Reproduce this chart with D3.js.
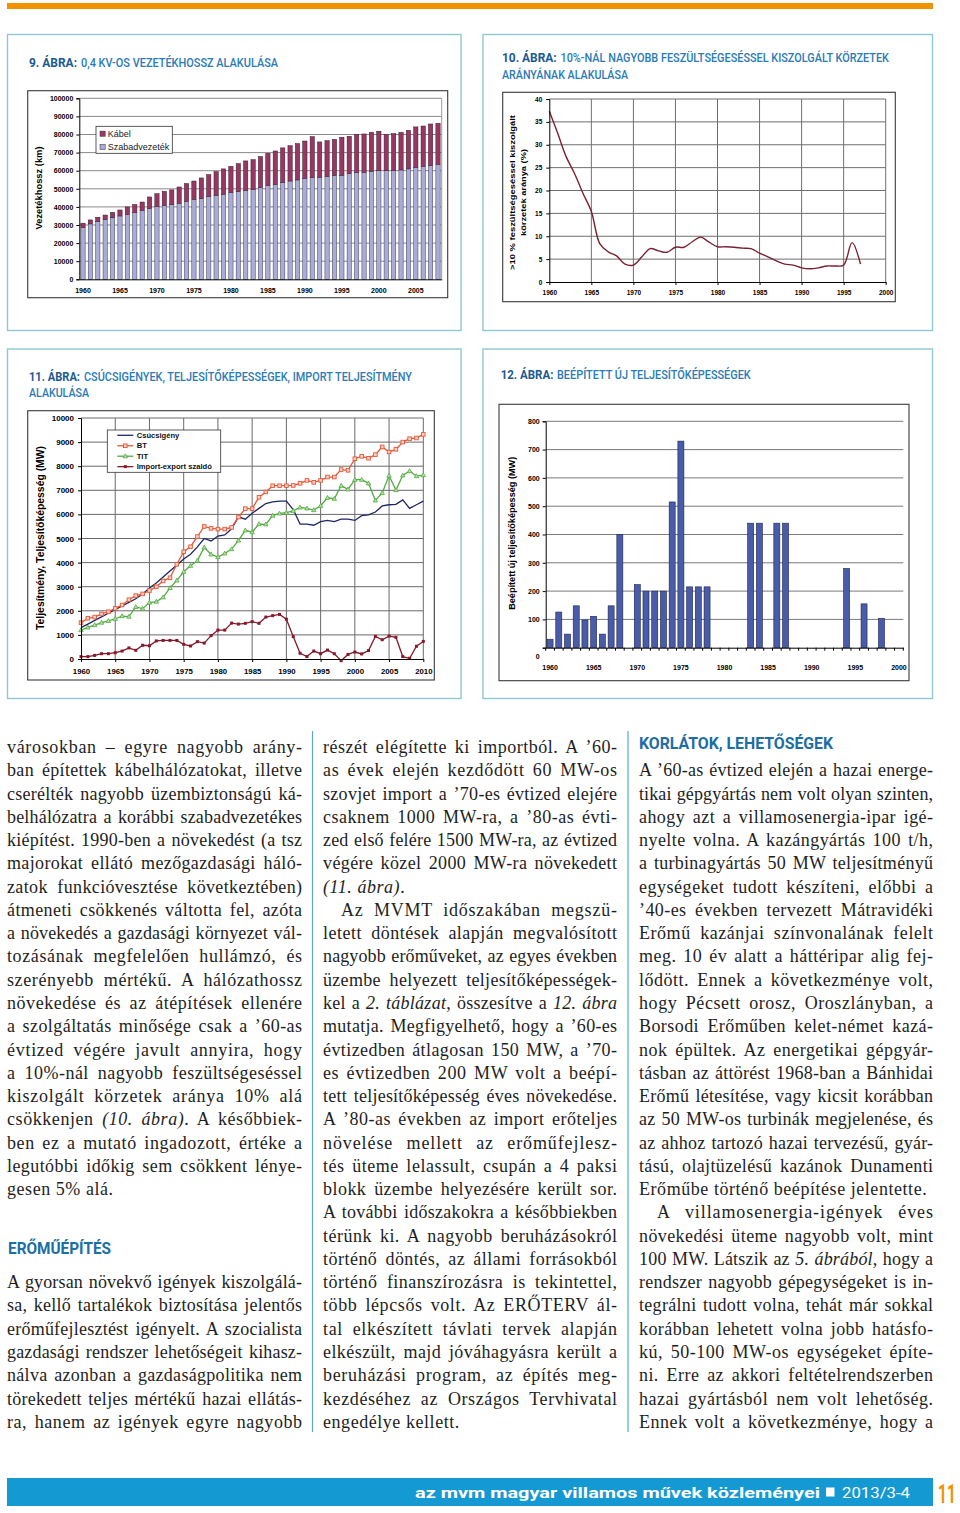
<!DOCTYPE html>
<html><head><meta charset="utf-8">
<script src="https://cdn.jsdelivr.net/npm/d3@7"></script>
<style>
body{margin:0;background:#fff}
svg{display:block}
.body{font-family:"Liberation Serif","Times New Roman",serif;font-size:18px;fill:#1e1e1e}
.ax text{font-family:"Liberation Sans",Arial,sans-serif;font-weight:bold;fill:#000}
</style>
</head><body>
<svg id="page" width="960" height="1513"></svg>
<script>
// ---------------- DATA ----------------
// 9. ábra – 0,4 kV-os vezetékhossz (km)
const years9 = d3.range(1960, 2009);
const szabad9 = [28700,30600,31900,33100,34000,35000,35900,37000,38100,39200,
  40300,40700,41300,42000,43100,44200,44600,45700,46400,47000,
  47900,48400,49200,49700,50600,51900,52500,53600,54300,54900,
  55800,56200,56400,56900,57500,57500,58400,59100,59100,59700,
  60000,60000,60200,60400,61000,61900,62400,62800,63400];
const kabel9 = [2300,2200,2400,2400,3000,3300,4100,4300,4600,6300,
  7000,7900,8100,9000,9800,10100,11400,12100,13100,14000,
  14500,15500,16200,16400,17200,17700,18400,19000,19500,20100,
  20600,22600,19500,19700,19800,21000,20600,21000,21200,21500,
  21800,20100,20300,20800,21300,22300,22300,23000,22800];
const yTicks9 = [0,10000,20000,30000,40000,50000,60000,70000,80000,90000,100000];
const xLabels9 = [1960,1965,1970,1975,1980,1985,1990,1995,2000,2005];
const legend9 = ["Kábel","Szabadvezeték"];

// 10. ábra – >10% feszültségeséssel kiszolgált körzetek aránya (%)
const years10 = d3.range(1960, 1998);
const pct10 = [37.3,32.5,27.4,23.7,19.4,15.4,8.4,6.6,5.7,3.9,
  3.7,5.5,7.3,6.8,6.5,7.6,7.6,8.8,9.8,8.7,
  7.7,7.7,7.6,7.4,7.3,6.3,5.5,4.6,3.9,3.7,
  3.1,2.9,3.1,3.5,3.5,3.7,8.6,3.9];
const yTicks10 = [0,5,10,15,20,25,30,35,40];
const xTicks10 = [1960,1965,1970,1975,1980,1985,1990,1995,2000];

// 11. ábra – Csúcsigény, BT, TIT, import-export szaldó (MW)
const years11 = d3.range(1960, 2011);
const csucs11 = [1300,1450,1600,1750,1900,2050,2200,2350,2500,2700,
  2950,3150,3400,3650,3900,4150,4350,4650,5000,4900,
  5100,5150,5400,5900,5800,6050,6250,6450,6520,6550,
  6550,6200,5600,5600,5550,5700,5750,5700,5800,5800,
  5750,5950,5980,6100,6350,6400,6420,6600,6250,6400,6550];
const bt11 = [1510,1690,1740,1870,1960,2100,2240,2460,2630,2700,
  2840,3000,3240,3370,3930,4450,4660,5080,5500,5420,
  5390,5390,5460,5890,6240,6240,6710,6930,7190,7190,
  7190,7200,7290,7410,7330,7410,7550,7550,7860,7830,
  8310,8410,8330,8480,8800,8590,8700,9000,9140,9170,9320];
const tit11 = [1200,1310,1410,1510,1580,1670,1780,1760,2160,2090,
  2340,2380,2560,2950,3260,3620,3870,4080,4630,4340,
  4230,4380,4560,4920,5340,5260,5600,5590,5950,6040,
  6070,6150,6290,6250,6180,6360,6690,6650,7190,7040,
  7440,7440,7290,6580,6890,7610,7010,7620,7800,7590,7630];
const imp11 = [100,100,150,220,220,260,330,460,360,570,
  550,750,770,770,770,610,540,720,660,970,
  1200,1200,1490,1450,1480,1550,1480,1740,1800,1850,
  1650,930,240,100,330,220,370,220,-70,190,
  290,210,350,940,800,950,900,100,30,530,730];
const yTicks11 = [0,1000,2000,3000,4000,5000,6000,7000,8000,9000,10000];
const xTicks11 = [1960,1965,1970,1975,1980,1985,1990,1995,2000,2005,2010];
const legend11 = ["Csúcsigény","BT","TIT","Import-export szaldó"];

// 12. ábra – Beépített új teljesítőképesség (MW)
const years12 = d3.range(1960, 2001);
const new12 = [30,126,48,148,98,111,48,148,400,0,
  223,200,200,200,515,730,215,215,215,0,
  0,0,0,440,440,0,440,440,0,0,
  0,0,0,0,280,0,155,0,104,0,0];
const yTicks12 = [0,100,200,300,400,500,600,700,800];
const xLabels12 = [1960,1965,1970,1975,1980,1985,1990,1995,2000];

// Body text (lines as printed); _..._ = italic, » = indent, ¶ = paragraph end
const col1 = ["városokban – egyre nagyobb arány-","ban építettek kábelhálózatokat, illetve","cserélték nagyobb üzembiztonságú ká-","belhálózatra a korábbi szabadvezetékes","kiépítést. 1990-ben a növekedést (a tsz","majorokat ellátó mezőgazdasági háló-","zatok funkcióvesztése következtében)","átmeneti csökkenés váltotta fel, azóta","a növekedés a gazdasági környezet vál-","tozásának megfelelően hullámzó, és","szerényebb mértékű. A hálózathossz","növekedése és az átépítések ellenére","a szolgáltatás minősége csak a ’60-as","évtized végére javult annyira, hogy","a 10%-nál nagyobb feszültségeséssel","kiszolgált körzetek aránya 10% alá","csökkenjen _(10. ábra)_. A későbbiek-","ben ez a mutató ingadozott, értéke a","legutóbbi időkig sem csökkent lénye-","gesen 5% alá.¶"];
const col1b = ["A gyorsan növekvő igények kiszolgálá-","sa, kellő tartalékok biztosítása jelentős","erőműfejlesztést igényelt. A szocialista","gazdasági rendszer lehetőségeit kihasz-","nálva azonban a gazdaságpolitika nem","törekedett teljes mértékű hazai ellátás-","ra, hanem az igények egyre nagyobb"];
const col2 = ["részét elégítette ki importból. A ’60-","as évek elején kezdődött 60 MW-os","szovjet import a ’70-es évtized elejére","csaknem 1000 MW-ra, a ’80-as évti-","zed első felére 1500 MW-ra, az évtized","végére közel 2000 MW-ra növekedett","_(11. ábra)_.¶","»Az MVMT időszakában megszü-","letett döntések alapján megvalósított","nagyobb erőműveket, az egyes években","üzembe helyezett teljesítőképességek-","kel a _2. táblázat_, összesítve a _12. ábra_","mutatja. Megfigyelhető, hogy a ’60-es","évtizedben átlagosan 150 MW, a ’70-","es évtizedben 200 MW volt a beépí-","tett teljesítőképesség éves növekedése.","A ’80-as években az import erőteljes","növelése mellett az erőműfejlesz-","tés üteme lelassult, csupán a 4 paksi","blokk üzembe helyezésére került sor.","A további időszakokra a későbbiekben","térünk ki. A nagyobb beruházásokról","történő döntés, az állami forrásokból","történő finanszírozásra is tekintettel,","több lépcsős volt. Az ERŐTERV ál-","tal elkészített távlati tervek alapján","elkészült, majd jóváhagyásra került a","beruházási program, az építés meg-","kezdéséhez az Országos Tervhivatal","engedélye kellett.¶"];
const col3 = ["A ’60-as évtized elején a hazai energe-","tikai gépgyártás nem volt olyan szinten,","ahogy azt a villamosenergia-ipar igé-","nyelte volna. A kazángyártás 100 t/h,","a turbinagyártás 50 MW teljesítményű","egységeket tudott készíteni, előbbi a","’40-es években tervezett Mátravidéki","Erőmű kazánjai színvonalának felelt","meg. 10 év alatt a háttéripar alig fej-","lődött. Ennek a következménye volt,","hogy Pécsett orosz, Oroszlányban, a","Borsodi Erőműben kelet-német kazá-","nok épültek. Az energetikai gépgyár-","tásban az áttörést 1968-ban a Bánhidai","Erőmű létesítése, vagy kicsit korábban","az 50 MW-os turbinák megjelenése, és","az ahhoz tartozó hazai tervezésű, gyár-","tású, olajtüzelésű kazánok Dunamenti","Erőműbe történő beépítése jelentette.¶","»A villamosenergia-igények éves","növekedési üteme nagyobb volt, mint","100 MW. Látszik az _5. ábrából_, hogy a","rendszer nagyobb gépegységeket is in-","tegrálni tudott volna, tehát már sokkal","korábban lehetett volna jobb hatásfo-","kú, 50-100 MW-os egységeket építe-","ni. Erre az akkori feltételrendszerben","hazai gyártásból nem volt lehetőség.","Ennek volt a következménye, hogy a"];

// ---------------- DRAW ----------------
const svg = d3.select("#page");
svg.append("rect").attr("width",960).attr("height",1513).attr("fill","#fff");
svg.append("rect").attr("x",7).attr("y",3).attr("width",926).attr("height",6).attr("fill","#f39200");

[[7.5,34.5,453.5,296],[483,34.5,449.5,296],[7.5,349,453.5,349.5],[483,349,449.5,349.5]].forEach(p=>{
  svg.append("rect").attr("x",p[0]).attr("y",p[1]).attr("width",p[2]).attr("height",p[3])
    .attr("fill","#fff").attr("stroke","#8fc7d1").attr("stroke-width",1.4);
});

const TFONT = "Roboto, 'DejaVu Sans Condensed', sans-serif";
function tpart(x,y,s,w,weight,fill){
  svg.append("text").attr("x",x).attr("y",y).attr("font-family",TFONT).attr("font-size",13)
    .attr("font-weight",weight).attr("fill",fill)
    .attr("textLength",w).attr("lengthAdjust","spacingAndGlyphs").text(s);
}
function title(x,y,bold,bw,rest,rx,rend){
  if(bold) tpart(x,y,bold,bw,700,"#1a5a90");
  tpart(rx,y,rest,rend-rx,500,"#2a7bb6");
}
title(29,66.5,"9. ÁBRA:",48,"0,4 KV-OS VEZETÉKHOSSZ ALAKULÁSA",81,278);
title(502,62,"10. ÁBRA:",54.7,"10%-NÁL NAGYOBB FESZÜLTSÉGESÉSSEL KISZOLGÁLT KÖRZETEK",560.5,889);
title(502,78.7,null,0,"ARÁNYÁNAK ALAKULÁSA",502,628);
title(29,380.5,"11. ÁBRA:",51,"CSÚCSIGÉNYEK, TELJESÍTŐKÉPESSÉGEK, IMPORT TELJESÍTMÉNY",84,412);
title(29,396.7,null,0,"ALAKULÁSA",29,89);
title(500.7,378.7,"12. ÁBRA:",52.7,"BEÉPÍTETT ÚJ TELJESÍTŐKÉPESSÉGEK",557,750.7);

function chartFrame(x0,y0,x1,y1){
  svg.append("rect").attr("x",x0).attr("y",y0).attr("width",x1-x0).attr("height",y1-y0)
    .attr("fill","#fff").attr("stroke","#3a3a3a").attr("stroke-width",1.1);
}
function styleAxis(g,fs){
  g.attr("class","ax");
  g.selectAll("text").attr("font-size",fs);
  g.selectAll("path.domain").attr("stroke","#000");
  g.selectAll(".tick line").attr("stroke","#000");
}
function yTitle(cx,cy,lines,fs,lens,gap){
  lines.forEach((s,i)=>{
    const x = cx + (i-(lines.length-1)/2)*gap;
    svg.append("text").attr("transform",`translate(${x},${cy}) rotate(-90)`)
      .attr("text-anchor","middle").attr("dy","0.35em")
      .attr("font-family","'Liberation Sans',Arial,sans-serif").attr("font-weight","bold")
      .attr("font-size",fs).attr("textLength",lens[i]).attr("lengthAdjust","spacingAndGlyphs").text(s);
  });
}

// ---- Chart 9 ----
(function(){
  chartFrame(27.7,90.7,447.7,297.7);
  const L=79.3,R=441.7,T=98.3,B=279.3;
  const x = d3.scaleBand().domain(years9).range([L,R]).paddingInner(0.42).paddingOuter(0.21);
  const y = d3.scaleLinear().domain([0,100000]).range([B,T]);
  const g = svg.append("g");
  g.selectAll("line.g").data(yTicks9.slice(1)).join("line")
    .attr("x1",L).attr("x2",R).attr("y1",d=>y(d)).attr("y2",d=>y(d)).attr("stroke","#8a8a8a").attr("stroke-width",1);
  g.append("line").attr("x1",R).attr("x2",R).attr("y1",T).attr("y2",B).attr("stroke","#9a9a9a");
  g.selectAll("rect.s").data(years9).join("rect")
    .attr("x",d=>x(d)).attr("width",x.bandwidth())
    .attr("y",(d,i)=>y(szabad9[i])).attr("height",(d,i)=>y(0)-y(szabad9[i]))
    .attr("fill","#ababd8").attr("stroke","#3a3a55").attr("stroke-width",0.5);
  g.selectAll("rect.k").data(years9).join("rect")
    .attr("x",d=>x(d)).attr("width",x.bandwidth())
    .attr("y",(d,i)=>y(szabad9[i]+kabel9[i])).attr("height",(d,i)=>y(szabad9[i])-y(szabad9[i]+kabel9[i]))
    .attr("fill","#983763").attr("stroke","#3a1a28").attr("stroke-width",0.5);
  const ya = svg.append("g").attr("transform",`translate(${L},0)`)
    .call(d3.axisLeft(y).tickValues(yTicks9).tickSize(3).tickPadding(3).tickFormat(d3.format("d")));
  styleAxis(ya,7);
  const xa = svg.append("g").attr("transform",`translate(0,${B})`)
    .call(d3.axisBottom(x).tickValues(xLabels9).tickSize(0).tickPadding(9).tickSizeOuter(0));
  styleAxis(xa,7);
  yTitle(38.5,188,["Vezetékhossz (km)"],8.6,[83],0);
  // legend
  svg.append("rect").attr("x",96).attr("y",126.3).attr("width",76.3).attr("height",27)
    .attr("fill","#fff").attr("stroke","#333").attr("stroke-width",0.8);
  const lc = ["#983763","#ababd8"];
  legend9.forEach((s,i)=>{
    const cy = 133.7 + i*13.3;
    svg.append("rect").attr("x",100).attr("y",cy-2.6).attr("width",5.2).attr("height",5.2)
      .attr("fill",lc[i]).attr("stroke","#333").attr("stroke-width",0.5);
    svg.append("text").attr("x",107.7).attr("y",cy+3.2).attr("font-family","'Liberation Sans',Arial,sans-serif")
      .attr("font-size",9).attr("fill","#222").text(s);
  });
})();

// ---- Chart 10 ----
(function(){
  chartFrame(502.7,92.3,895.3,301.7);
  const L=549.3,R=885.7,T=99,B=282;
  const x = d3.scaleLinear().domain([1960,2000]).range([L,R]);
  const y = d3.scaleLinear().domain([0,40]).range([B,T]);
  const g = svg.append("g");
  g.selectAll("line.h").data(yTicks10.slice(1)).join("line")
    .attr("x1",L).attr("x2",R).attr("y1",d=>y(d)).attr("y2",d=>y(d)).attr("stroke","#6f6f6f");
  g.selectAll("line.v").data(xTicks10.slice(1)).join("line")
    .attr("x1",d=>x(d)).attr("x2",d=>x(d)).attr("y1",T).attr("y2",B).attr("stroke","#6f6f6f");
  g.append("path").datum(pct10)
    .attr("d",d3.line().x((d,i)=>x(years10[i])).y(d=>y(d)).curve(d3.curveCatmullRom.alpha(0.5)))
    .attr("fill","none").attr("stroke","#7a2234").attr("stroke-width",1.4);
  const ya = svg.append("g").attr("transform",`translate(${L},0)`)
    .call(d3.axisLeft(y).tickValues(yTicks10).tickSize(3).tickPadding(4));
  styleAxis(ya,6.5);
  const xa = svg.append("g").attr("transform",`translate(0,${B})`)
    .call(d3.axisBottom(x).tickValues(xTicks10).tickSize(3).tickPadding(5.5).tickFormat(d3.format("d")).tickSizeOuter(0));
  styleAxis(xa,6.5);
  yTitle(517.5,192.5,[">10 % feszültségeséssel kiszolgált","körzetek aránya (%)"],8,[155,87],11.6);
})();

// ---- Chart 11 ----
(function(){
  chartFrame(27.7,410.7,434.3,680);
  const L=81,R=423.3,T=418,B=659;
  const x = d3.scaleLinear().domain([1960,2010]).range([L,R]);
  const y = d3.scaleLinear().domain([0,10000]).range([B,T]);
  const g = svg.append("g");
  g.selectAll("line.h").data(yTicks11.slice(1)).join("line")
    .attr("x1",L).attr("x2",R).attr("y1",d=>y(d)).attr("y2",d=>y(d)).attr("stroke","#6a6a6a");
  g.selectAll("line.v").data(xTicks11.slice(1)).join("line")
    .attr("x1",d=>x(d)).attr("x2",d=>x(d)).attr("y1",T).attr("y2",B).attr("stroke","#6a6a6a");
  const line = d3.line().x((d,i)=>x(years11[i])).y(d=>y(d));
  const series = [
    {v:csucs11,c:"#1d2766",m:null},
    {v:bt11,c:"#e4583a",m:"sq"},
    {v:tit11,c:"#52ab41",m:"tri"},
    {v:imp11,c:"#87182c",m:"sqf"}
  ];
  series.forEach(s=>{
    g.append("path").datum(s.v).attr("d",line).attr("fill","none").attr("stroke",s.c).attr("stroke-width",1.3);
  });
  function marker(sel,s,cx,cy){
    if(s.m==="sq") sel.append("rect").attr("x",cx-1.8).attr("y",cy-1.8).attr("width",3.6).attr("height",3.6)
      .attr("fill","#fbd0c0").attr("stroke",s.c).attr("stroke-width",0.9);
    else if(s.m==="tri") sel.append("path").attr("d",`M${cx},${cy-2.3}L${cx+2.2},${cy+1.6}L${cx-2.2},${cy+1.6}Z`)
      .attr("fill","#b9e0a8").attr("stroke",s.c).attr("stroke-width",0.8);
    else if(s.m==="sqf") sel.append("rect").attr("x",cx-1.5).attr("y",cy-1.5).attr("width",3).attr("height",3)
      .attr("fill",s.c);
  }
  series.forEach(s=>{
    if(!s.m) return;
    s.v.forEach((d,i)=>marker(g,s,x(years11[i]),y(d)));
  });
  const ya = svg.append("g").attr("transform",`translate(${L},0)`)
    .call(d3.axisLeft(y).tickValues(yTicks11).tickSize(3).tickPadding(4).tickFormat(d3.format("d")));
  styleAxis(ya,8);
  const xa = svg.append("g").attr("transform",`translate(0,${B})`)
    .call(d3.axisBottom(x).tickValues(xTicks11).tickSize(3).tickPadding(6.5).tickFormat(d3.format("d")).tickSizeOuter(0));
  styleAxis(xa,7.8);
  yTitle(40.5,538,["Teljesítmény, Teljesítőképesség (MW)"],10,[184],0);
  // legend
  svg.append("rect").attr("x",107.3).attr("y",430).attr("width",113.4).attr("height",42.3)
    .attr("fill","#fff").attr("stroke","#333").attr("stroke-width",0.8);
  legend11.forEach((name,i)=>{
    const cy = 435.3 + i*10.45;
    const s = series[i];
    svg.append("line").attr("x1",117.3).attr("x2",133.3).attr("y1",cy).attr("y2",cy).attr("stroke",s.c).attr("stroke-width",1.3);
    if(s.m) marker(svg,s,125.3,cy);
    svg.append("text").attr("x",136.7).attr("y",cy+2.7).attr("font-family","'Liberation Sans',Arial,sans-serif")
      .attr("font-weight","bold").attr("font-size",7.6).attr("fill","#111").text(name);
  });
})();

// ---- Chart 12 ----
(function(){
  chartFrame(499,404.3,909,680.7);
  const L=545.7,R=903.3,T=421.3,B=647.7;
  const x = d3.scaleBand().domain(years12).range([L,R]).paddingInner(0.31).paddingOuter(0.155);
  const y = d3.scaleLinear().domain([0,800]).range([B,T]);
  const g = svg.append("g");
  g.selectAll("line.h").data(yTicks12.slice(1)).join("line")
    .attr("x1",L).attr("x2",R).attr("y1",d=>y(d)).attr("y2",d=>y(d)).attr("stroke","#7a7a7a");
  g.selectAll("rect.b").data(years12.filter((d,i)=>new12[i]>0)).join("rect")
    .attr("x",d=>x(d)).attr("width",x.bandwidth())
    .attr("y",d=>y(new12[years12.indexOf(d)])).attr("height",d=>B-y(new12[years12.indexOf(d)]))
    .attr("fill","#4a5ca8").attr("stroke","#1c2550").attr("stroke-width",0.6);
  const step = x.step(), off = (step - x.bandwidth())/2;
  g.selectAll("line.t").data(years12.concat([2001])).join("line")
    .attr("x1",d=>d<=2000? x(d)-off : R).attr("x2",d=>d<=2000? x(d)-off : R)
    .attr("y1",B).attr("y2",B+3).attr("stroke","#000");
  const ya = svg.append("g").attr("transform",`translate(${L},0)`)
    .call(d3.axisLeft(y).tickValues(yTicks12).tickSize(3).tickPadding(3));
  styleAxis(ya,7);
  ya.selectAll(".tick").filter(d=>d===0).select("text").attr("y",9);
  const xa = svg.append("g").attr("transform",`translate(0,${B})`)
    .call(d3.axisBottom(x).tickValues(xLabels12).tickSize(0).tickPadding(17).tickSizeOuter(0));
  styleAxis(xa,7);
  yTitle(512,533.3,["Beépített új teljesítőképesség (MW)"],8.4,[153],0);
})();

// ---- Body text ----
const LH = 23.27, BASE = 753, LS_DEFAULT = 0.55;
function bodyLine(x,y,w,raw){
  let s = raw, indent = 0, justify = true;
  if(s.startsWith("»")){ s = s.slice(1); indent = 18; }
  if(s.endsWith("¶")){ s = s.slice(0,-1); justify = false; }
  const t = svg.append("text").attr("class","body").attr("x",x+indent).attr("y",y).style("white-space","pre");
  s.split("_").forEach((p,i)=>{ if(p) t.append("tspan").attr("font-style",i%2?"italic":"normal").text(p); });
  if(!justify){ t.style("letter-spacing",LS_DEFAULT+"px"); return; }
  const target = w - indent;
  const nat = t.node().getComputedTextLength();
  const nChars = s.replace(/_/g,"").length;
  const ls = Math.max(0, Math.min(0.9, (target-nat)*0.6/nChars));
  t.style("letter-spacing",ls+"px");
  const nat2 = t.node().getComputedTextLength() - ls;
  const n = (s.match(/ /g)||[]).length;
  if(n) t.style("word-spacing",(target-nat2)/n+"px");
}
col1.forEach((s,i)=>bodyLine(7,BASE+i*LH,295,s));
col1b.forEach((s,i)=>bodyLine(7,BASE+(23+i)*LH,295,s));
col2.forEach((s,i)=>bodyLine(323,BASE+i*LH,294,s));
col3.forEach((s,i)=>bodyLine(639,BASE+(1+i)*LH,294,s));

function heading(x,y,s,w){
  svg.append("text").attr("x",x).attr("y",y).attr("font-family",TFONT).attr("font-weight",700)
    .attr("font-size",16.5).attr("fill","#1c6ea4").attr("textLength",w).attr("lengthAdjust","spacingAndGlyphs").text(s);
}
heading(8,1253.5,"ERŐMŰÉPÍTÉS",103);
heading(639,748.5,"KORLÁTOK, LEHETŐSÉGEK",194);

[312.5,628].forEach(x=>{
  svg.append("line").attr("x1",x).attr("x2",x).attr("y1",731).attr("y2",1432)
    .attr("stroke","#5aa9c9").attr("stroke-width",1.2);
});

// ---- Footer ----
svg.append("rect").attr("x",7).attr("y",1478).attr("width",926).attr("height",28).attr("fill","#1499d3");
svg.append("text").attr("x",415).attr("y",1497.5).attr("font-family",TFONT).attr("font-weight",700)
  .attr("font-size",15).attr("fill","#fff").attr("textLength",405).attr("lengthAdjust","spacingAndGlyphs")
  .text("az mvm magyar villamos művek közleményei");
svg.append("rect").attr("x",826).attr("y",1487.5).attr("width",8.5).attr("height",9).attr("fill","#fff");
svg.append("text").attr("x",842).attr("y",1497.5).attr("font-family",TFONT).attr("font-weight",400)
  .attr("font-size",14).attr("fill","#fff").attr("textLength",68).attr("lengthAdjust","spacingAndGlyphs").text("2013/3-4");
svg.append("text").attr("transform","translate(938,1503) scale(0.62,1)").attr("font-family",TFONT).attr("font-weight",700)
  .attr("font-size",25).attr("fill","#f39200").text("11");
</script>
</body></html>
